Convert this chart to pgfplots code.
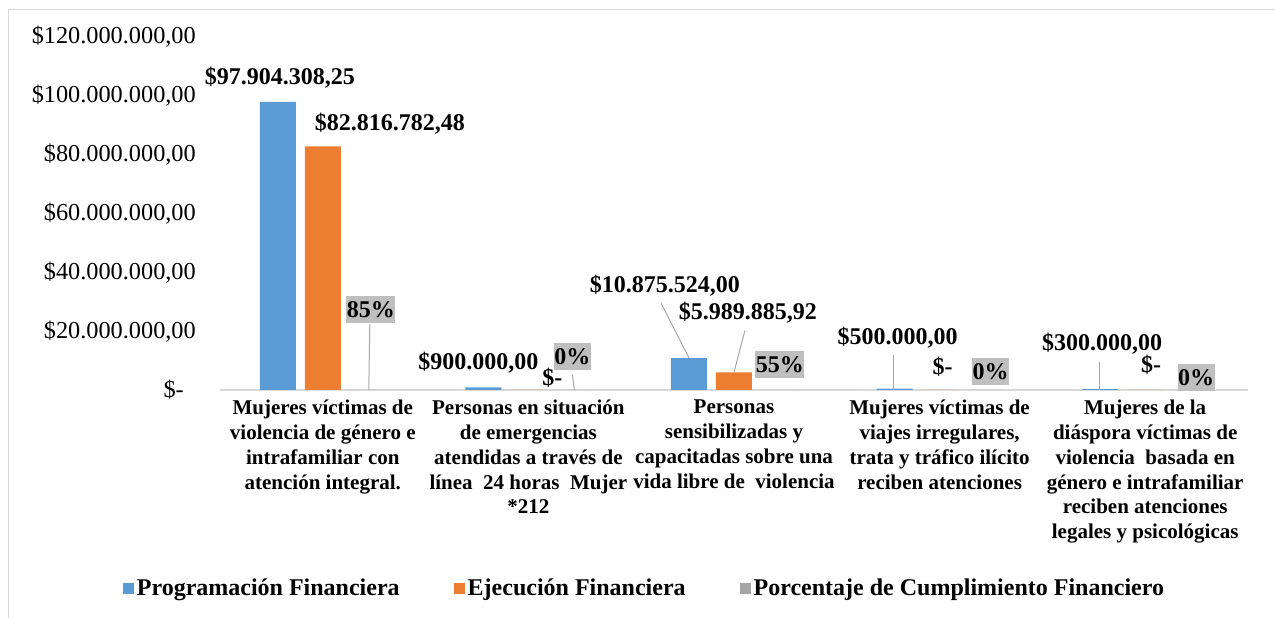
\documentclass[border=0pt]{standalone}
\usepackage{pgfplots}
\pgfplotsset{compat=1.18}
\usepackage{fontspec}
\setmainfont{Liberation Serif}
\definecolor{cblue}{HTML}{5B9BD5}
\definecolor{corange}{HTML}{ED7D31}
\definecolor{cgray}{HTML}{A5A5A5}
\definecolor{boxgray}{HTML}{BFBFBF}
\definecolor{leader}{HTML}{A6A6A6}
\definecolor{axline}{HTML}{D9D9D9}
\definecolor{frame}{HTML}{D9D9D9}
\begin{document}
\begin{tikzpicture}[x=1pt,y=1pt,
  lab/.style={font=\fontsize{24}{28}\selectfont\bfseries, inner sep=0pt, anchor=center},
  pct/.style={font=\fontsize{24}{28}\selectfont\bfseries, fill=boxgray, inner xsep=0.5pt, inner ysep=0pt, minimum height=27pt, anchor=center},
  ld/.style={draw=leader, line width=1pt}]
\useasboundingbox (0,0) rectangle (1275,618);
\draw[frame, line width=1.2pt] (8.5,0) -- (8.5,608.5) -- (1275,608.5);
\begin{axis}[
  at={(220pt,228pt)}, anchor=south west,
  width=1028pt, height=353pt, scale only axis,
  xmin=-0.5, xmax=4.5, ymin=0, ymax=120000000,
  scaled y ticks=false,
  /pgf/number format/assume math mode=true,
  ybar=9pt, bar width=36pt,
  axis line style={draw=none},
  axis x line*=bottom,
  ytick={0,20000000,40000000,60000000,80000000,100000000,120000000},
  yticklabels={{\textnormal{\$-\hspace*{12pt}}},{\textnormal{\$20.000.000,00}},{\textnormal{\$40.000.000,00}},{\textnormal{\$60.000.000,00}},{\textnormal{\$80.000.000,00}},{\textnormal{\$100.000.000,00}},{\textnormal{\$120.000.000,00}}},
  yticklabel style={font=\fontsize{24.3}{28}\selectfont, inner sep=0pt, xshift=-24pt, anchor=east},
  major tick length=0pt,
  xtick={0,1,2,3,4},
  xticklabels={
    {Mujeres víctimas de\\violencia de género e\\intrafamiliar con\\atención integral.},
    {Personas en situación\\de emergencias\\atendidas a través de\\línea \ 24 horas \ Mujer\\*212},
    {Personas\\sensibilizadas y\\capacitadas sobre una\\vida libre de \ violencia},
    {Mujeres víctimas de\\viajes irregulares,\\trata y tráfico ilícito\\reciben atenciones},
    {Mujeres de la\\diáspora víctimas de\\violencia \ basada en\\género e intrafamiliar\\reciben atenciones\\legales y psicológicas}},
  xticklabel style={font=\fontsize{21}{24.8}\selectfont\bfseries, align=center, anchor=north, inner sep=0pt, yshift=-10pt},
  legend columns=3,
  legend style={draw=none, fill=none, at={(0.4134,-0.561)}, anchor=center,
    font=\fontsize{24}{28}\selectfont\bfseries,
    /tikz/every even column/.append style={column sep=51pt},
    nodes={inner xsep=3pt, inner ysep=0pt}},
  legend image code/.code={\fill[#1] (0pt,-5.5pt) rectangle (11pt,5.5pt);},
  clip=false,
]
\draw[axline, line width=1.5pt] (axis cs:-0.5,0) -- (axis cs:4.5,0);
\addplot[fill=cblue, draw=none] coordinates {(0,97904308.25) (1,900000) (2,10875524) (3,500000) (4,300000)};
\addplot[fill=corange, draw=none] coordinates {(0,82816782.48) (1,0) (2,5989885.92) (3,0) (4,0)};
\addplot[fill=cgray, draw=none] coordinates {(0,0.85) (1,0) (2,0.55) (3,0) (4,0)};
\legend{Programación Financiera, Ejecución Financiera, Porcentaje de Cumplimiento Financiero}
% leader lines
\draw[ld] ([xshift=47pt,yshift=66pt]axis cs:0,0) -- ([xshift=46pt]axis cs:0,0);
\draw[ld] ([xshift=44pt,yshift=15pt]axis cs:1,0) -- ([xshift=46pt]axis cs:1,0);
\draw[ld] ([xshift=-73pt,yshift=55pt]axis cs:2,10875524) -- ([xshift=-45pt]axis cs:2,10875524);
\draw[ld] ([xshift=11pt,yshift=42pt]axis cs:2,5989885.92) -- ([xshift=0pt]axis cs:2,5989885.92);
\draw[ld] ([xshift=-46pt,yshift=34pt]axis cs:3,500000) -- ([xshift=-46pt]axis cs:3,0);
\draw[ld] ([xshift=-46pt,yshift=27pt]axis cs:4,300000) -- ([xshift=-46pt]axis cs:4,0);
% data labels
\node[lab, xshift=-43pt, yshift=24pt] at (axis cs:0,97904308.25) {\$97.904.308,25};
\node[lab, xshift=67pt, yshift=23pt] at (axis cs:0,82816782.48) {\$82.816.782,48};
\node[pct, xshift=48pt, yshift=80pt] at (axis cs:0,0) {85\%};
\node[lab, xshift=-50pt, yshift=25pt] at (axis cs:1,900000) {\$900.000,00};
\node[lab, xshift=24pt, yshift=12pt] at (axis cs:1,0) {\$-};
\node[pct, xshift=44pt, yshift=33pt] at (axis cs:1,0) {0\%};
\node[lab, xshift=-69pt, yshift=72pt] at (axis cs:2,10875524) {\$10.875.524,00};
\node[lab, xshift=14pt, yshift=60pt] at (axis cs:2,5989885.92) {\$5.989.885,92};
\node[pct, xshift=46pt, yshift=25pt] at (axis cs:2,0) {55\%};
\node[lab, xshift=-42pt, yshift=51pt] at (axis cs:3,500000) {\$500.000,00};
\node[lab, xshift=3pt, yshift=23pt] at (axis cs:3,0) {\$-};
\node[pct, xshift=51pt, yshift=18pt] at (axis cs:3,0) {0\%};
\node[lab, xshift=-43pt, yshift=45pt] at (axis cs:4,300000) {\$300.000,00};
\node[lab, xshift=6pt, yshift=25pt] at (axis cs:4,0) {\$-};
\node[pct, xshift=51pt, yshift=12pt] at (axis cs:4,0) {0\%};
\end{axis}
\end{tikzpicture}
\end{document}
